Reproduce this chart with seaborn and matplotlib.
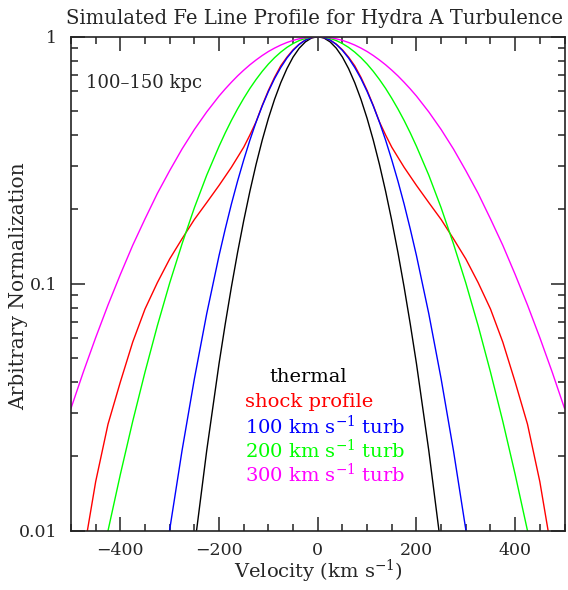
import numpy as np
import pandas as pd
import matplotlib
matplotlib.use("Agg")
import matplotlib.pyplot as plt
import seaborn as sns
from matplotlib.ticker import FixedLocator, LogLocator, NullFormatter, FixedFormatter

# Line-of-sight velocity grid (km/s), denser around the line centre
velocity = [-500, -475, -450, -425, -400, -375, -350, -325, -300, -275, -250, -225,
            -200, -187.5, -175, -162.5, -150, -137.5, -125, -112.5, -100, -87.5, -75, -62.5,
            -50, -37.5, -25, -12.5,
            0,
            12.5, 25, 37.5, 50,
            62.5, 75, 87.5, 100, 112.5, 125, 137.5, 150, 162.5, 175, 187.5, 200,
            225, 250, 275, 300, 325, 350, 375, 400, 425, 450, 475, 500]

# Normalized Fe line profiles sampled on the velocity grid
thermal = [5.4e-9, 3.4e-8, 2.0e-7, 1.05e-6, 5.1e-6, 2.2e-5, 8.8e-5, 3.2e-4, 0.00105, 0.00314, 0.00854, 0.0211,
           0.0475, 0.0686, 0.0969, 0.1337, 0.180, 0.2367, 0.304, 0.3813, 0.467, 0.558, 0.651, 0.7425,
           0.827, 0.8985, 0.953, 0.988,
           1.0,
           0.988, 0.953, 0.8985, 0.827,
           0.7425, 0.651, 0.558, 0.467, 0.3813, 0.304, 0.2367, 0.180, 0.1337, 0.0969, 0.0686, 0.0475,
           0.0211, 0.00854, 0.00314, 0.00105, 3.2e-4, 8.8e-5, 2.2e-5, 5.1e-6, 1.05e-6, 2.0e-7, 3.4e-8, 5.4e-9]

shock = [0.0038, 0.0080, 0.0158, 0.027, 0.040, 0.058, 0.079, 0.101, 0.126, 0.152, 0.182, 0.213,
         0.250, 0.272, 0.296, 0.325, 0.357, 0.400, 0.452, 0.527, 0.606, 0.685, 0.762, 0.826,
         0.885, 0.933, 0.970, 0.992,
         1.0,
         0.992, 0.970, 0.933, 0.885,
         0.826, 0.762, 0.685, 0.606, 0.527, 0.452, 0.400, 0.357, 0.325, 0.296, 0.272, 0.250,
         0.213, 0.182, 0.152, 0.126, 0.101, 0.079, 0.058, 0.040, 0.027, 0.0158, 0.0080, 0.0038]

turb100 = [2.9e-6, 1.0e-5, 3.3e-5, 1.0e-4, 2.9e-4, 7.7e-4, 0.00193, 0.00457, 0.0101, 0.0211, 0.0412, 0.0756,
           0.130, 0.1664, 0.210, 0.2601, 0.317, 0.3813, 0.451, 0.5243, 0.600, 0.6767, 0.750, 0.8192,
           0.880, 0.9308, 0.969, 0.9921,
           1.0,
           0.9921, 0.969, 0.9308, 0.880,
           0.8192, 0.750, 0.6767, 0.600, 0.5243, 0.451, 0.3813, 0.317, 0.2601, 0.210, 0.1664, 0.130,
           0.0756, 0.0412, 0.0211, 0.0101, 0.00457, 0.00193, 7.7e-4, 2.9e-4, 1.0e-4, 3.3e-5, 1.0e-5, 2.9e-6]

turb200 = [0.0017, 0.0032, 0.0057, 0.0100, 0.0169, 0.0277, 0.0439, 0.0676, 0.1007, 0.145, 0.203, 0.275,
           0.360, 0.4078, 0.458, 0.5098, 0.563, 0.6174, 0.671, 0.724, 0.775, 0.8225, 0.866, 0.9052,
           0.938, 0.9648, 0.984, 0.996,
           1.0,
           0.996, 0.984, 0.9648, 0.938,
           0.9052, 0.866, 0.8225, 0.775, 0.724, 0.671, 0.6174, 0.563, 0.5098, 0.458, 0.4078, 0.360,
           0.275, 0.203, 0.145, 0.1007, 0.0676, 0.0439, 0.0277, 0.0169, 0.0100, 0.0057, 0.0032, 0.0017]

turb300 = [0.0313, 0.0439, 0.0605, 0.082, 0.109, 0.143, 0.183, 0.232, 0.287, 0.351, 0.421, 0.496,
           0.575, 0.6145, 0.654, 0.6937, 0.732, 0.7695, 0.805, 0.8391, 0.871, 0.8993, 0.925, 0.9473,
           0.966, 0.9807, 0.991, 0.9978,
           1.0,
           0.9978, 0.991, 0.9807, 0.966,
           0.9473, 0.925, 0.8993, 0.871, 0.8391, 0.805, 0.7695, 0.732, 0.6937, 0.654, 0.6145, 0.575,
           0.496, 0.421, 0.351, 0.287, 0.232, 0.183, 0.143, 0.109, 0.082, 0.0605, 0.0439, 0.0313]

series_names = ["thermal", "shock profile",
                "100 km s$^{-1}$ turb", "200 km s$^{-1}$ turb", "300 km s$^{-1}$ turb"]
series_values = [thermal, shock, turb100, turb200, turb300]
series_colors = ["#000000", "#ff0000", "#0000ff", "#00ff00", "#ff00ff"]

x_ticks = [-400, -200, 0, 200, 400]
y_ticks = [0.01, 0.1, 1]
y_tick_labels = ["0.01", "0.1", "1"]

sns.set_style("ticks")
plt.rcParams["font.family"] = ["DejaVu Serif"]
plt.rcParams["mathtext.fontset"] = "dejavuserif"
plt.rcParams["mathtext.default"] = "regular"

FS = 14

frame = pd.concat(
    [pd.DataFrame({"velocity": velocity, "flux": vals, "profile": name})
     for name, vals in zip(series_names, series_values)],
    ignore_index=True)

fig = plt.figure(figsize=(5.68, 5.90), dpi=100)
ax = fig.add_axes([71 / 568, 1 - 530.7 / 590, 493.5 / 568, 494 / 590])

sns.lineplot(data=frame, x="velocity", y="flux", hue="profile",
             palette=dict(zip(series_names, series_colors)),
             hue_order=series_names, sort=False, estimator=None,
             linewidth=1.0, legend=False, ax=ax)

ax.set_yscale("log")
ax.set_xlim(-500, 500)
ax.set_ylim(0.01, 1)

ax.xaxis.set_major_locator(FixedLocator(x_ticks))
ax.xaxis.set_minor_locator(FixedLocator(list(range(-500, 501, 50))))
ax.yaxis.set_major_locator(FixedLocator(y_ticks))
ax.yaxis.set_major_formatter(FixedFormatter(y_tick_labels))
ax.yaxis.set_minor_locator(LogLocator(base=10, subs=np.arange(2, 10), numticks=20))
ax.yaxis.set_minor_formatter(NullFormatter())

for s in ax.spines.values():
    s.set_linewidth(1.2)
    s.set_color("#222222")
ax.tick_params(which="both", direction="in", top=True, right=True,
               color="#222222", width=1.1, labelsize=12.5)
ax.tick_params(which="major", length=10)
ax.tick_params(which="minor", length=4.8)
ax.tick_params(axis="x", which="major", pad=8)
ax.tick_params(axis="y", which="major", pad=10)
ax.set_xlabel("")
ax.set_ylabel("")

fig.text(318 / 568, 1 - 578 / 590, "Velocity (km s$^{-1}$)", ha="center", va="baseline", fontsize=FS)
fig.text(19 / 568, 1 - 286 / 590, "Arbitrary Normalization", ha="center", va="center",
         rotation=90, fontsize=14.5)
fig.text(315 / 568, 1 - 18 / 590, "Simulated Fe Line Profile for Hydra A Turbulence",
         ha="center", va="center", fontsize=14.1)

fig.text(86 / 568, 1 - 83 / 590, "100\u2013150 kpc", ha="left", va="center", fontsize=13)

label_rows = [(269, 377), (245, 402), (245, 426), (245, 450), (245, 474)]
for (px, py), name, col in zip(label_rows, series_names, series_colors):
    fig.text(px / 568, 1 - py / 590, name, ha="left", va="center", color=col, fontsize=FS)

fig.savefig("out.png", dpi=100)
